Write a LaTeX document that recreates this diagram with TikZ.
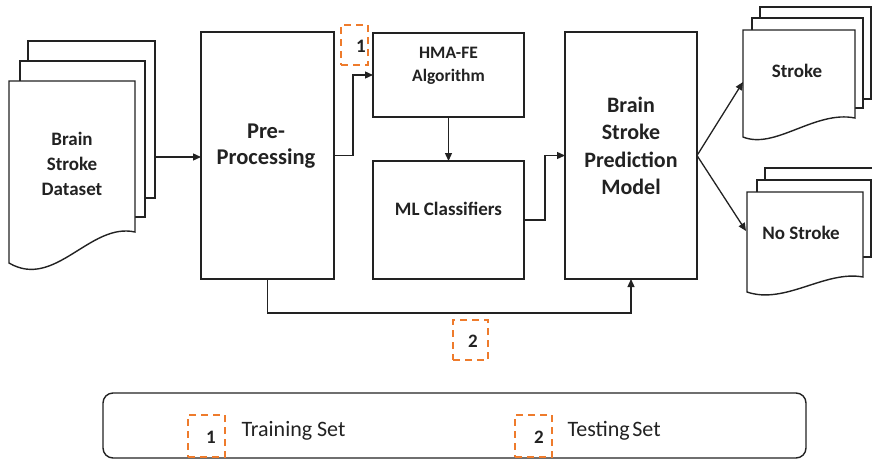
\documentclass[tikz,border=0pt]{standalone}
\usepackage{fontspec}
\setmainfont{Carlito}
\usetikzlibrary{arrows.meta}
\definecolor{ink}{HTML}{222222}
\definecolor{tagorange}{HTML}{EE7B2C}

\tikzset{
  procbox/.style={draw=ink, fill=white, line width=1.4pt, inner sep=0pt, outer sep=0pt},
  page/.style={draw=ink, fill=white, line width=1.4pt},
  arr/.style={draw=ink, line width=1.3pt, -{Triangle[length=8pt,width=7pt]}},
  bigtext/.style={text=ink, font=\bfseries\fontsize{22.5}{26}\selectfont, align=center},
  midtext/.style={text=ink, font=\bfseries\fontsize{19}{25}\selectfont, align=center},
  tagbox/.style={draw=tagorange, line width=2pt, dash pattern=on 7pt off 5pt,
                 inner sep=0pt, minimum width=#1},
  tagbox/.default=28pt,
  tagnum/.style={text=ink, font=\bfseries\fontsize{19}{19}\selectfont},
  legtext/.style={text=ink, font=\fontsize{22}{22}\selectfont, anchor=west}
}

\begin{document}
\begin{tikzpicture}[x=1pt,y=-1pt]
\useasboundingbox (0,0) rectangle (872,461);

% ---- input dataset (stack of pages) ----
\draw[page] (28,41) rectangle (155,198);
\draw[page] (20,61) rectangle (145,217);
\draw[page] (9,81) -- (135,81) -- (135,232)
  .. controls (90,222) and (55,290) .. (9,263) -- cycle;
\node[midtext] (dataset) at (72,164) {Brain\\Stroke\\Dataset};
\coordinate (dsOut) at (155,157);

% ---- processing blocks ----
\node[procbox, minimum width=133pt, minimum height=247pt] (pre) at (267.5,155.5) {};
\node[bigtext] (preText) at (266,146) {Pre-\\Processing};

\node[procbox, minimum width=151pt, minimum height=84pt] (hma) at (448.5,75) {};
\node[text=ink, font=\bfseries\fontsize{17.5}{23}\selectfont, align=center] (hmaText) at (448.5,66) {HMA-FE\\Algorithm};

\node[procbox, minimum width=151pt, minimum height=118pt] (ml) at (448.5,220) {};
\node[midtext] (mlText) at (448.5,209) {ML Classifiers};

\node[procbox, minimum width=132pt, minimum height=247pt] (model) at (631,155.5) {};
\node[text=ink, font=\bfseries\fontsize{22}{27.5}\selectfont, align=center] (modelText) at (631,146) {Brain\\Stroke\\Prediction\\Model};

% ---- output: stroke ----
\draw[page] (760,7) rectangle (871,99);
\draw[page] (752,18) rectangle (863,108);
\draw[page] (743,30) -- (855,30) -- (855,118)
  .. controls (815,110) and (775,150) .. (743,137) -- cycle;
\node[midtext] (stroke) at (797,71) {Stroke};
\coordinate (strokeIn) at (743,82);

% ---- output: no stroke ----
\draw[page] (765,168) rectangle (880,246);
\draw[page] (757,180) rectangle (871,257);
\draw[page] (747,192) -- (863,192) -- (863,277)
  .. controls (825,270) and (785,305) .. (747,292) -- cycle;
\node[midtext] (noStroke) at (801,233) {No Stroke};
\coordinate (noStrokeIn) at (746,231);

% ---- connectors ----
\draw[arr] (dsOut) -- (pre.west |- dsOut);
\draw[arr] (pre.east) -- ++(19,0) |- (hma.west);
\draw[arr] (hma.south) -- (ml.north);
\draw[arr] (ml.east) -- ++(21,0) |- (model.west);
\draw[arr] (pre.south) -- ++(0,34) -| (model.south);
\draw[arr] (model.east) -- (strokeIn);
\draw[arr] (model.east) -- (noStrokeIn);

% ---- data split tags ----
\node[tagbox=27pt, minimum height=40pt] (tagA) at (354.5,45) {};
\node[tagnum] (tagAnum) at (361,46) {1};
\node[tagbox=35pt, minimum height=40pt] (tagB) at (470.5,340) {};
\node[tagnum] (tagBnum) at (473,341) {2};

% ---- legend ----
\node[draw=ink, line width=1.4pt, rounded corners=10pt, minimum width=703pt,
      minimum height=65pt, inner sep=0pt] (legend) at (454.5,425.5) {};
\node[tagbox=37pt, minimum height=42pt] (legA) at (206.5,436) {};
\node[tagnum] (legAnum) at (211,437) {1};
\node[legtext] (legAtext) at (238,431) {Training Set};
\node[tagbox=37pt, minimum height=42pt] (legB) at (533.5,436) {};
\node[tagnum] (legBnum) at (539,437) {2};
\node[legtext] (legBtext) at (564,431) {Testing\hspace{0.12em}Set};
\end{tikzpicture}
\end{document}
